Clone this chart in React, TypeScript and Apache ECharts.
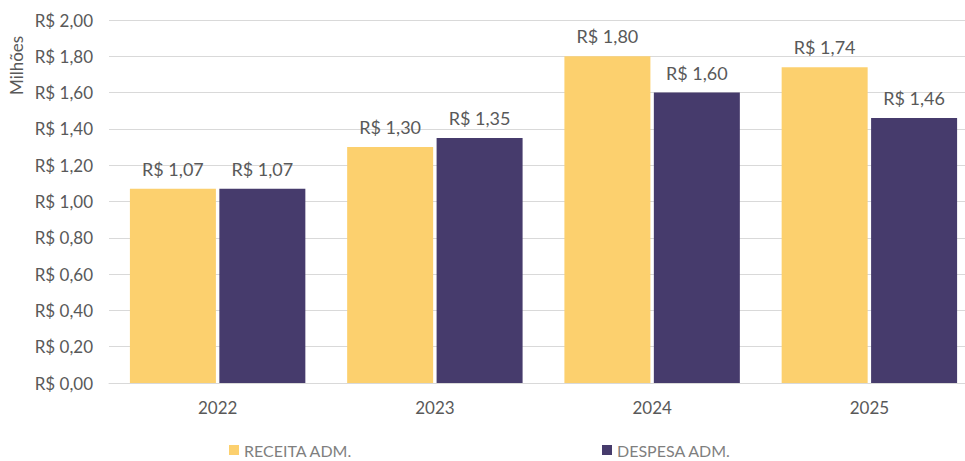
import React, { useEffect, useRef } from "react";
import * as echarts from "echarts";

const categories = ["2022", "2023", "2024", "2025"];
const receita = [1.07, 1.3, 1.8, 1.74];
const despesa = [1.07, 1.35, 1.6, 1.46];
const seriesNames = ["RECEITA ADM.", "DESPESA ADM."];
const colors = ["#FCD06E", "#463B6C"];

const fmt = (v: number) => "R$ " + v.toFixed(2).replace(".", ",");
const FONT = "Lato, 'Open Sans', sans-serif";
const GREY = "#595959";

export default function App() {
  const ref = useRef<HTMLDivElement>(null);
  useEffect(() => {
    if (!ref.current) return;
    const chart = echarts.init(ref.current, null, { renderer: "svg" });
    const label = {
      show: true,
      position: "top",
      distance: 11,
      color: GREY,
      fontSize: 18,
      fontFamily: FONT,
      formatter: (p: any) => fmt(p.value),
    };
    const legendBase = {
      top: 442,
      padding: 0,
      itemWidth: 10,
      itemHeight: 10,
      itemGap: 5,
      icon: "rect",
      textStyle: { color: "#7F7F7F", fontSize: 16, fontFamily: FONT },
    };
    chart.setOption({
      animation: false,
      textStyle: { fontFamily: FONT },
      grid: { left: 109, right: 0, top: 20, bottom: 78, containLabel: false },
      legend: [
        { ...legendBase, data: [seriesNames[0]], left: 229 },
        { ...legendBase, data: [seriesNames[1]], left: 602 },
      ],
      xAxis: {
        type: "category",
        data: categories,
        axisLine: { show: true, lineStyle: { color: "#D9D9D9", width: 1 } },
        axisTick: { show: false },
        axisLabel: { color: GREY, fontSize: 17, fontFamily: FONT, margin: 16 },
      },
      yAxis: {
        type: "value",
        min: 0,
        max: 2,
        interval: 0.2,
        axisLine: { show: false },
        axisTick: { show: false },
        splitLine: { lineStyle: { color: "#D9D9D9", width: 1 } },
        axisLabel: {
          color: GREY,
          fontSize: 17,
          fontFamily: FONT,
          margin: 16,
          formatter: (v: number) => fmt(v),
        },
      },
      graphic: [
        {
          type: "text",
          x: 8,
          y: 95,
          rotation: Math.PI / 2,
          style: { text: "Milhões", fill: GREY, fontSize: 17, fontFamily: FONT },
        },
      ],
      series: [
        {
          name: seriesNames[0],
          type: "bar",
          data: receita,
          itemStyle: { color: colors[0] },
          barWidth: 86,
          barGap: "4%",
          label,
        },
        {
          name: seriesNames[1],
          type: "bar",
          data: despesa,
          itemStyle: { color: colors[1] },
          barWidth: 86,
          label,
        },
      ],
    });
    return () => chart.dispose();
  }, []);
  return (
    <div
      style={{
        position: "fixed",
        left: 0,
        top: 0,
        width: 965,
        height: 461,
        overflow: "hidden",
        background: "#fff",
      }}
    >
      <div ref={ref} style={{ width: 978, height: 461 }} />
    </div>
  );
}
